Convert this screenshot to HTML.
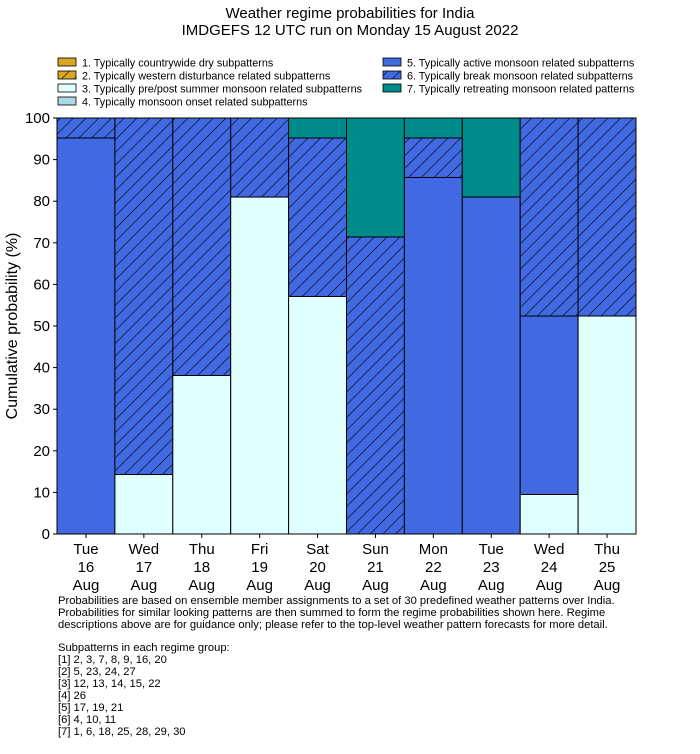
<!DOCTYPE html>
<html><head><meta charset="utf-8"><style>
body{margin:0;background:#fff;font-family:"Liberation Sans","DejaVu Sans",sans-serif;}
svg{display:block}
</style></head><body>
<svg width="700" height="754" xmlns="http://www.w3.org/2000/svg">
<defs>
<pattern id="hb" patternUnits="userSpaceOnUse" width="9" height="9" patternTransform="rotate(45)">
<rect width="9" height="9" fill="#4169E1"/><line x1="0" y1="0" x2="0" y2="9" stroke="#000" stroke-width="1.2"/></pattern>
<pattern id="hg" patternUnits="userSpaceOnUse" width="9" height="9" patternTransform="rotate(45)">
<rect width="9" height="9" fill="#DAA520"/><line x1="0" y1="0" x2="0" y2="9" stroke="#000" stroke-width="1.2"/></pattern>
</defs>
<text x="350" y="18" text-anchor="middle" font-size="15">Weather regime probabilities for India</text>
<text x="350" y="35" text-anchor="middle" font-size="15">IMDGEFS 12 UTC run on Monday 15 August 2022</text>
<g id="legend" font-size="10.8"></g>
<g id="bars"></g>
<g id="axes"></g>
<text transform="translate(17,326) rotate(-90)" text-anchor="middle" font-size="16">Cumulative probability (%)</text>
<g font-size="11.2">
<text x="58" y="604">Probabilities are based on ensemble member assignments to a set of 30 predefined weather patterns over India.</text>
<text x="58" y="616">Probabilities for similar looking patterns are then summed to form the regime probabilities shown here. Regime</text>
<text x="58" y="628">descriptions above are for guidance only; please refer to the top-level weather pattern forecasts for more detail.</text>
<text x="58" y="651">Subpatterns in each regime group:</text>
<text x="58" y="663">[1] 2, 3, 7, 8, 9, 16, 20</text>
<text x="58" y="675">[2] 5, 23, 24, 27</text>
<text x="58" y="687">[3] 12, 13, 14, 15, 22</text>
<text x="58" y="699">[4] 26</text>
<text x="58" y="711">[5] 17, 19, 21</text>
<text x="58" y="723">[6] 4, 10, 11</text>
<text x="58" y="735">[7] 1, 6, 18, 25, 28, 29, 30</text>
</g>
</svg>
<script>
const days=["Tue\n16\nAug","Wed\n17\nAug","Thu\n18\nAug","Fri\n19\nAug","Sat\n20\nAug","Sun\n21\nAug","Mon\n22\nAug","Tue\n23\nAug","Wed\n24\nAug","Thu\n25\nAug"];
const dry=[0,0,0,0,0,0,0,0,0,0];
const western=[0,0,0,0,0,0,0,0,0,0];
const prepost=[0,14.3,38.1,81,57.1,0,0,0,9.5,52.4];
const onset=[0,0,0,0,0,0,0,0,0,0];
const active=[95.2,0,0,0,0,0,85.7,81,42.9,0];
const brk=[4.8,85.7,61.9,19,38.1,71.4,9.5,0,47.6,47.6];
const retreat=[0,0,0,0,4.8,28.6,4.8,19,0,0];
const yTicks=[0,10,20,30,40,50,60,70,80,90,100];
const labels=["1. Typically countrywide dry subpatterns","2. Typically western disturbance related subpatterns","3. Typically pre/post summer monsoon related subpatterns","4. Typically monsoon onset related subpatterns","5. Typically active monsoon related subpatterns","6. Typically break monsoon related subpatterns","7. Typically retreating monsoon related patterns"];
const fills=["#DAA520","url(#hg)","#E0FFFF","#ADD8E6","#4169E1","url(#hb)","#008B8B"];
const series=[dry,western,prepost,onset,active,brk,retreat];
const NS="http://www.w3.org/2000/svg";
const X0=57,X1=636,Y0=534,Y1=118;
const bw=(X1-X0)/days.length;
const y=v=>Y0-(Y0-Y1)*v/100;
const x=i=>X0+i*bw;
function mk(t,a,p){const e=document.createElementNS(NS,t);for(const k in a)e.setAttribute(k,a[k]);p.appendChild(e);return e;}
const bars=document.getElementById('bars');
days.forEach((d,i)=>{let c=0;series.forEach((s,k)=>{const v=s[i];if(v<=0)return;
const r=mk('rect',{x:x(i),y:y(c+v),width:bw,height:y(c)-y(c+v),fill:fills[k],stroke:'#000','stroke-width':1},bars);


c+=v;});});
const ax=document.getElementById('axes');
mk('rect',{x:X0,y:Y1,width:X1-X0,height:Y0-Y1,fill:'none',stroke:'#000','stroke-width':1},ax);
yTicks.forEach(t=>{mk('line',{x1:X0-4,x2:X0,y1:y(t),y2:y(t),stroke:'#000'},ax);
const tx=mk('text',{x:X0-7,y:y(t)+5,'text-anchor':'end','font-size':15},ax);tx.textContent=t;

});
days.forEach((d,i)=>{const cx=x(i)+bw/2;mk('line',{x1:cx,x2:cx,y1:Y0,y2:Y0+4,stroke:'#000'},ax);
d.split('\n').forEach((s,j)=>{const tx=mk('text',{x:cx,y:Y0+20+j*18,'text-anchor':'middle','font-size':15},ax);tx.textContent=s;

});});
const lg=document.getElementById('legend');
const pos=[[58,63],[58,76],[58,89],[58,102],[383,63],[383,76],[383,89]];
labels.forEach((l,k)=>{const [lx,ly]=pos[k];
const g=mk('g',{},lg);


mk('rect',{x:lx,y:ly-5,width:18,height:8,fill:fills[k],stroke:'#000','stroke-width':0.8},g);
const t=mk('text',{x:lx+24,y:ly+3.5},g);t.textContent=l;});
</script>
</body></html>
